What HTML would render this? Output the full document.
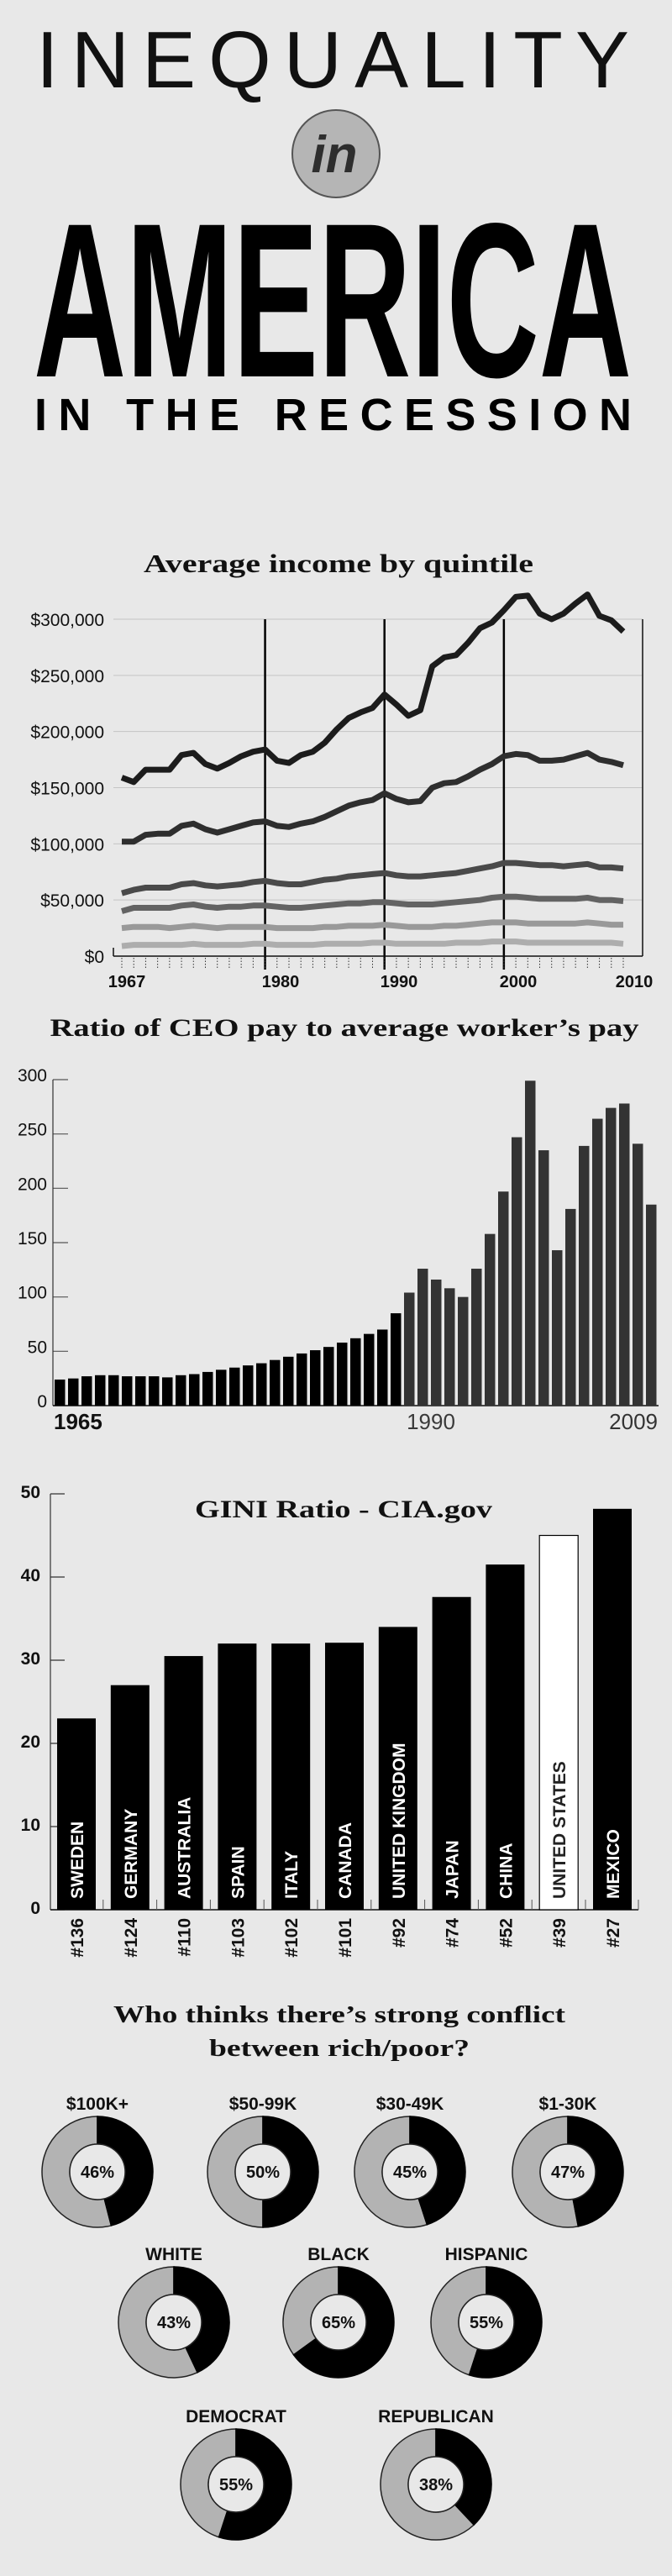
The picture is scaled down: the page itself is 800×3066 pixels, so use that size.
<!DOCTYPE html>
<html><head><meta charset="utf-8"><title>Inequality in America</title>
<style>
html,body{margin:0;padding:0;background:#e8e8e8;}
svg{display:block;}
.narrow{font-family:"Liberation Sans Narrow","Liberation Sans",sans-serif;}
.sans{font-family:"Liberation Sans",sans-serif;}
.serif{font-family:"Liberation Serif",serif;}
</style></head>
<body>
<svg id="page" width="800" height="3066" viewBox="0 0 800 3066" xmlns="http://www.w3.org/2000/svg">
<rect x="0" y="0" width="800" height="3066" fill="#e8e8e8"/>
<g>
  <text class="sans" x="43" y="104" font-size="96" font-weight="normal" fill="#111" textLength="706" lengthAdjust="spacing">INEQUALITY</text>
  <circle cx="400" cy="183" r="52" fill="#b5b5b5" stroke="#555" stroke-width="2"/>
  <text class="sans" x="398" y="205" font-size="62" font-weight="bold" font-style="italic" fill="#2e2e2e" text-anchor="middle">in</text>
  <text class="narrow" x="40" y="448" font-size="262" font-weight="bold" fill="#000" textLength="712" lengthAdjust="spacingAndGlyphs">AMERICA</text>
  <text class="sans" x="41" y="512" font-size="54" font-weight="bold" fill="#000" textLength="711" lengthAdjust="spacing">IN THE RECESSION</text>
</g>
<g id="income"></g>
<g id="ceo"></g>
<g id="gini"></g>
<g id="donuts"></g>
</svg>
<script>
// ---------- Income by quintile data (thousands $) ----------
const incomeYears = [1967,1968,1969,1970,1971,1972,1973,1974,1975,1976,1977,1978,1979,1980,1981,1982,1983,1984,1985,1986,1987,1988,1989,1990,1991,1992,1993,1994,1995,1996,1997,1998,1999,2000,2001,2002,2003,2004,2005,2006,2007,2008,2009];
const incomeTop5 = [159,155,166,166,166,179,181,171,167,172,178,182,184,174,172,179,182,190,202,212,217,221,233,224,214,219,258,266,268,279,292,297,308,320,321,305,300,305,314,322,303,299,289];
const incomeQ5 = [102,102,108,109,109,116,118,113,110,113,116,119,120,116,115,118,120,124,129,134,137,139,145,140,137,138,150,154,155,160,166,171,178,180,179,174,174,175,178,181,175,173,170];
const incomeQ4 = [56,59,61,61,61,64,65,63,62,63,64,66,67,65,64,64,66,68,69,71,72,73,74,72,71,71,72,73,74,76,78,80,83,83,82,81,81,80,81,82,79,79,78];
const incomeQ3 = [40,43,43,43,43,45,46,44,43,44,44,45,45,44,43,43,44,45,46,47,47,48,48,47,46,46,46,47,48,49,50,52,53,53,52,51,51,51,51,52,50,50,49];
const incomeQ2 = [25,26,26,26,25,26,27,26,25,26,26,26,26,25,25,25,25,26,26,27,27,27,28,27,26,26,26,27,27,28,29,30,30,30,29,29,29,29,29,30,29,28,28];
const incomeQ1 = [9,10,10,10,10,10,11,10,10,10,10,11,11,10,10,10,10,11,11,11,11,12,12,11,11,11,11,11,12,12,12,13,13,13,12,12,12,12,12,12,12,12,11];
const incomeTicks = [0,50,100,150,200,250,300];
const incomeTickLabels = ["$0","$50,000","$100,000","$150,000","$200,000","$250,000","$300,000"];
const incomeRecessionYears = [1979,1989,1999];
const incomeXLabels = ["1967","1980","1990","2000","2010"];

// ---------- CEO ratio data ----------
const ceoYears = [];
for (let y = 1965; y <= 2009; y++) ceoYears.push(y);
const ceoRatio = [24,25,27,28,28,27,27,27,26,28,29,31,33,35,37,39,42,45,48,51,54,58,62,66,70,85,104,126,116,108,100,126,158,197,247,299,235,143,181,239,264,274,278,241,185];
const ceoTicks = [0,50,100,150,200,250,300];

// ---------- GINI data ----------
const giniCountries = ["SWEDEN","GERMANY","AUSTRALIA","SPAIN","ITALY","CANADA","UNITED KINGDOM","JAPAN","CHINA","UNITED STATES","MEXICO"];
const giniValues = [23,27,30.5,32,32,32.1,34,37.6,41.5,45,48.2];
const giniRanks = ["#136","#124","#110","#103","#102","#101","#92","#74","#52","#39","#27"];
const giniTicks = [0,10,20,30,40,50];

// ---------- Donut data ----------
const donutLabels = ["$100K+","$50-99K","$30-49K","$1-30K","WHITE","BLACK","HISPANIC","DEMOCRAT","REPUBLICAN"];
const donutValues = [46,50,45,47,43,65,55,55,38];

const NS = "http://www.w3.org/2000/svg";
function mk(parent, tag, attrs, text) {
  const el = document.createElementNS(NS, tag);
  for (const k in attrs) el.setAttribute(k, attrs[k]);
  if (text !== undefined) el.textContent = text;
  parent.appendChild(el);
  return el;
}

// ===== Income chart =====
(function(){
  const g = document.getElementById('income');
  const x0 = 145, x1 = 742, yBase = 1138, yTop = 737, left = 135, right = 765;
  const xs = y => x0 + (y - 1967) * (x1 - x0) / (2009 - 1967);
  const ys = v => yBase - v * (yBase - yTop) / 300;
  let t = mk(g,'text',{class:'serif',x:403,y:681,'font-size':31,'font-weight':'bold','text-anchor':'middle',fill:'#111',textLength:464,lengthAdjust:'spacingAndGlyphs'},'Average income by quintile');
  
  
  incomeTicks.forEach((v,i)=>{
    if (v > 0) {
      const l = mk(g,'line',{x1:left,x2:right,y1:ys(v),y2:ys(v),stroke:'#c4c4c4','stroke-width':1});
      
      
    }
    const lb = mk(g,'text',{class:'narrow',x:124,y:ys(v)+8,'font-size':21,'text-anchor':'end',fill:'#111'},incomeTickLabels[i]);
    
    
  });
  incomeRecessionYears.forEach(y=>{
    const l = mk(g,'line',{x1:xs(y),x2:xs(y),y1:ys(300),y2:yBase+16,stroke:'#000','stroke-width':2.5});
    
    
  });
  let ax = mk(g,'line',{x1:left,x2:right,y1:yBase,y2:yBase,stroke:'#111','stroke-width':1.5});
  
  
  let rax = mk(g,'line',{x1:right,x2:right,y1:ys(300),y2:yBase,stroke:'#111','stroke-width':1.5});
  
  
  let lax = mk(g,'line',{x1:left,x2:left,y1:yBase-10,y2:yBase,stroke:'#111','stroke-width':1.5});
  
  
  incomeYears.forEach(y=>{
    const d = mk(g,'line',{x1:xs(y),x2:xs(y),y1:yBase+2,y2:yBase+16,stroke:'#333','stroke-width':1,'stroke-dasharray':'1.5,2'});
    
    
  });
  const xlPos = [151,334,475,617,755];
  incomeXLabels.forEach((s,i)=>{
    const lb = mk(g,'text',{class:'narrow',x:xlPos[i],y:1175,'font-size':20,'font-weight':'bold','text-anchor':'middle',fill:'#111'},s);
    
    
  });
  const series = [
    [incomeQ1,'#adadad','income-line-bottom-quintile'],
    [incomeQ2,'#999999','income-line-second-quintile'],
    [incomeQ3,'#636363','income-line-middle-quintile'],
    [incomeQ4,'#4a4a4a','income-line-fourth-quintile'],
    [incomeQ5,'#2e2e2e','income-line-top-quintile'],
    [incomeTop5,'#1c1c1c','income-line-top-5-percent']
  ];
  series.forEach(([data,col,name])=>{
    const pts = data.map((v,i)=>xs(incomeYears[i]).toFixed(1)+','+ys(v).toFixed(1)).join(' ');
    const p = mk(g,'polyline',{points:pts,fill:'none',stroke:col,'stroke-width':7,'stroke-linejoin':'round','stroke-linecap':'butt'});
    
    
  });
})();

// ===== CEO chart =====
(function(){
  const g = document.getElementById('ceo');
  const yBase = 1673, yTop = 1285, axisX = 63;
  const ys = v => yBase - v * (yBase - yTop) / 300;
  const xs = i => 65 + i * 16;
  let t = mk(g,'text',{class:'serif',x:410,y:1233,'font-size':30,'font-weight':'bold','text-anchor':'middle',fill:'#111',textLength:701,lengthAdjust:'spacingAndGlyphs'},'Ratio of CEO pay to average worker\u2019s pay');
  
  
  ceoTicks.forEach(v=>{
    const tk = mk(g,'line',{x1:axisX,x2:81,y1:ys(v),y2:ys(v),stroke:'#555','stroke-width':1.2});
    
    
    const lb = mk(g,'text',{class:'narrow',x:56,y:ys(v)+2,'font-size':21,'text-anchor':'end',fill:'#111'},String(v));
    
    
  });
  let ax = mk(g,'line',{x1:axisX,x2:axisX,y1:yTop,y2:yBase,stroke:'#333','stroke-width':1.2});
  
  
  let bx = mk(g,'line',{x1:axisX,x2:784,y1:yBase,y2:yBase,stroke:'#111','stroke-width':1.5});
  
  
  ceoRatio.forEach((v,i)=>{
    const r = mk(g,'rect',{x:xs(i),y:ys(v),width:12.5,height:yBase-ys(v),fill: i<=25 ? '#000' : '#333'});
    
    
  });
  let a = mk(g,'text',{class:'sans',x:64,y:1701,'font-size':26,'font-weight':'bold',fill:'#111'},'1965');
  
  
  let b = mk(g,'text',{class:'sans',x:513,y:1701,'font-size':26,'text-anchor':'middle',fill:'#3a3a3a'},'1990');
  
  
  let c = mk(g,'text',{class:'sans',x:783,y:1701,'font-size':26,'text-anchor':'end',fill:'#333'},'2009');
  
  
})();

// ===== GINI chart =====
(function(){
  const g = document.getElementById('gini');
  const yBase = 2273, yTop = 1778, axisX = 60;
  const ys = v => yBase - v * (yBase - yTop) / 50;
  const xs = i => 68 + i * 63.8;
  const bw = 46;
  let t = mk(g,'text',{class:'serif',x:409,y:1806,'font-size':30,'font-weight':'bold','text-anchor':'middle',fill:'#111',textLength:354,lengthAdjust:'spacingAndGlyphs'},'GINI Ratio - CIA.gov');
  
  
  giniTicks.forEach(v=>{
    const tk = mk(g,'line',{x1:axisX,x2:77,y1:ys(v),y2:ys(v),stroke:'#333','stroke-width':1.2});
    
    
    const lb = mk(g,'text',{class:'narrow',x:48,y:ys(v)+5,'font-size':21,'font-weight':'bold','text-anchor':'end',fill:'#111'},String(v));
    
    
  });
  let ax = mk(g,'line',{x1:axisX,x2:axisX,y1:yTop,y2:yBase,stroke:'#333','stroke-width':1.2});
  
  
  let bx = mk(g,'line',{x1:axisX,x2:760,y1:yBase,y2:yBase,stroke:'#111','stroke-width':1.5});
  
  
  giniValues.forEach((v,i)=>{
    const us = giniCountries[i] === 'UNITED STATES';
    const r = mk(g,'rect',{x:xs(i),y:ys(v),width:bw,height:yBase-ys(v),fill: us ? '#ffffff' : '#000',stroke:'#000','stroke-width': us ? 1.2 : 0});
    
    
    const cx = xs(i) + bw/2;
    const lb = mk(g,'text',{class:'sans',x:0,y:0,'font-size':21,'font-weight':'bold',fill: us ? '#222' : '#fff',transform:'translate('+(cx+8)+',2260) rotate(-90)'},giniCountries[i]);
    
    
    const rk = mk(g,'text',{class:'sans',x:0,y:0,'font-size':21,'font-weight':'bold','text-anchor':'end',fill:'#111',transform:'translate('+(cx+8)+',2283) rotate(-90)'},giniRanks[i]);
    
    
    if (i > 0) {
      const sep = mk(g,'line',{x1:xs(i)-9,x2:xs(i)-9,y1:yBase-12,y2:yBase,stroke:'#555','stroke-width':1});
      
      
    }
  });
  const end = mk(g,'line',{x1:760,x2:760,y1:yBase-12,y2:yBase,stroke:'#555','stroke-width':1});
  
  
})();

// ===== Donuts =====
(function(){
  const g = document.getElementById('donuts');
  let t1 = mk(g,'text',{class:'serif',x:404,y:2407,'font-size':29,'font-weight':'bold','text-anchor':'middle',fill:'#111',textLength:538,lengthAdjust:'spacingAndGlyphs'},'Who thinks there\u2019s strong conflict');
  
  
  let t2 = mk(g,'text',{class:'serif',x:404,y:2447,'font-size':29,'font-weight':'bold','text-anchor':'middle',fill:'#111',textLength:310,lengthAdjust:'spacingAndGlyphs'},'between rich/poor?');
  
  
  const centers = [[116,2585],[313,2585],[488,2585],[676,2585],[207,2764],[403,2764],[579,2764],[281,2957],[519,2957]];
  const R = 66, r = 33;
  function pt(cx,cy,rad,frac){const a=frac*2*Math.PI;return [cx+rad*Math.sin(a),cy-rad*Math.cos(a)];}
  function arc(cx,cy,f0,f1){
    const large = (f1-f0) > 0.5 ? 1 : 0;
    const [ax,ay]=pt(cx,cy,R,f0),[bx,by]=pt(cx,cy,R,f1),[cx2,cy2]=pt(cx,cy,r,f1),[dx,dy]=pt(cx,cy,r,f0);
    return `M${ax},${ay} A${R},${R} 0 ${large} 1 ${bx},${by} L${cx2},${cy2} A${r},${r} 0 ${large} 0 ${dx},${dy} Z`;
  }
  donutValues.forEach((v,i)=>{
    const [cx,cy] = centers[i];
    const grp = mk(g,'g',{});
    
    
    const f = v/100;
    const gp = mk(grp,'path',{d:arc(cx,cy,f,1-0.00001),fill:'#b3b3b3',stroke:'#222','stroke-width':1.5});
    
    
    const bp = mk(grp,'path',{d:arc(cx,cy,0,f),fill:'#000',stroke:'#000','stroke-width':1.5});
    
    
    const ic = mk(grp,'circle',{cx:cx,cy:cy,r:r,fill:'#e8e8e8',stroke:'#222','stroke-width':1.5});
    
    
    const pc = mk(grp,'text',{class:'narrow',x:cx,y:cy+7,'font-size':20,'font-weight':'bold','text-anchor':'middle',fill:'#111'},v+'%');
    
    
    const lb = mk(grp,'text',{class:'sans',x:cx,y:cy-74,'font-size':21,'font-weight':'bold','text-anchor':'middle',fill:'#111'},donutLabels[i]);
    
    
  });
})();
</script>
</body></html>
